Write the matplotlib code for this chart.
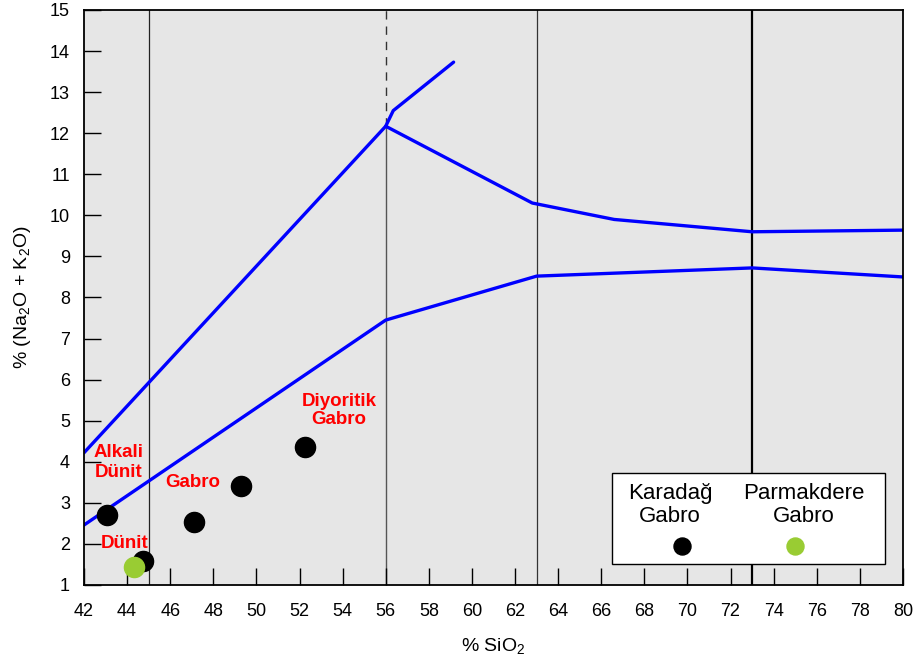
import matplotlib
matplotlib.use("Agg")
import matplotlib.pyplot as plt
from matplotlib.patches import Rectangle

plt.rcParams['font.family'] = ['Liberation Sans', 'DejaVu Sans']
plt.rcParams['mathtext.fontset'] = 'custom'
plt.rcParams['mathtext.rm'] = 'Liberation Sans'

# TAS-type boundary lines (SiO2, Na2O+K2O)
upper_x = [42.0, 56.0, 56.35, 59.15]
upper_y = [4.22, 12.17, 12.55, 13.73]
top_x = [56.0, 62.8, 66.6, 73.0, 80.0]
top_y = [12.17, 10.3, 9.9, 9.6, 9.64]
lower_x = [42.0, 56.0, 63.0, 73.0, 80.0]
lower_y = [2.46, 7.45, 8.52, 8.72, 8.5]

# Samples
karadag_x = [43.07, 44.74, 47.1, 49.3, 52.26]
karadag_y = [2.70, 1.58, 2.53, 3.42, 4.37]
parmakdere_x = [44.32]
parmakdere_y = [1.44]

# Field names
field_labels = ["Alkali\nDünit", "Dünit", "Gabro", "Diyoritik\nGabro"]
field_x = [43.62, 43.9, 47.03, 53.83]
field_y = [3.98, 2.02, 3.50, 5.25]
field_spacing = [1.2, 1.0, 1.0, 1.05]

fig = plt.figure(figsize=(9.13, 6.57), dpi=100)
ax = fig.add_axes([0.092, 0.1096, 0.897, 0.8752])
ax.set_facecolor('#e6e6e6')
ax.set_xlim(42, 80)
ax.set_ylim(1, 15)
ax.set_xticks(range(42, 81, 2))
ax.set_yticks(range(1, 16))
ax.tick_params(direction='in', length=12, width=1, labelsize=13,
               top=False, right=False)
ax.tick_params(axis='x', pad=13)
ax.tick_params(axis='y', pad=10)
for s in ax.spines.values():
    s.set_linewidth(1.3)

# vertical division lines
ax.axvline(45, color='#222222', lw=0.9, zorder=1)
ax.plot([56, 56], [1, 12.17], color='#555555', lw=1.0, zorder=1)
ax.plot([56, 56], [12.17, 15], color='#333333', lw=1.0, ls=(0, (6, 5)), zorder=1)
ax.axvline(63, color='#333333', lw=0.9, zorder=1)
ax.axvline(73, color='black', lw=1.6, zorder=1)

for xs, ys in [(upper_x, upper_y), (top_x, top_y), (lower_x, lower_y)]:
    ax.plot(xs, ys, color='#0000ff', lw=2.4, solid_capstyle='round', zorder=2)

ax.scatter(karadag_x, karadag_y, s=210, color='black', zorder=3)
ax.scatter(parmakdere_x, parmakdere_y, s=210, color='#99cc33', zorder=4)

for t, x, y, ls in zip(field_labels, field_x, field_y, field_spacing):
    ax.text(x, y, t, color='#ff0000', fontsize=13.5, fontweight='bold',
            ha='center', va='center', linespacing=ls, zorder=5)

ax.set_xlabel('% SiO$_2$', fontsize=14, labelpad=12)
ax.set_ylabel('% (Na$_2$O + K$_2$O)', fontsize=14, labelpad=12)

# legend box
ax.add_patch(Rectangle((0.645, 0.036), 0.333, 0.158, transform=ax.transAxes,
                       facecolor='white', edgecolor='black', lw=1.0, zorder=6))
ax.text(0.7155, 0.139, 'Karadağ\nGabro', transform=ax.transAxes, fontsize=16,
        ha='center', va='center', linespacing=1.15, zorder=7)
ax.text(0.879, 0.139, 'Parmakdere\nGabro', transform=ax.transAxes, fontsize=16,
        ha='center', va='center', linespacing=1.15, zorder=7)
ax.scatter([0.730], [0.068], s=150, color='black', transform=ax.transAxes, zorder=7)
ax.scatter([0.868], [0.068], s=150, color='#99cc33', transform=ax.transAxes, zorder=7)

fig.savefig('out.png', dpi=100)
